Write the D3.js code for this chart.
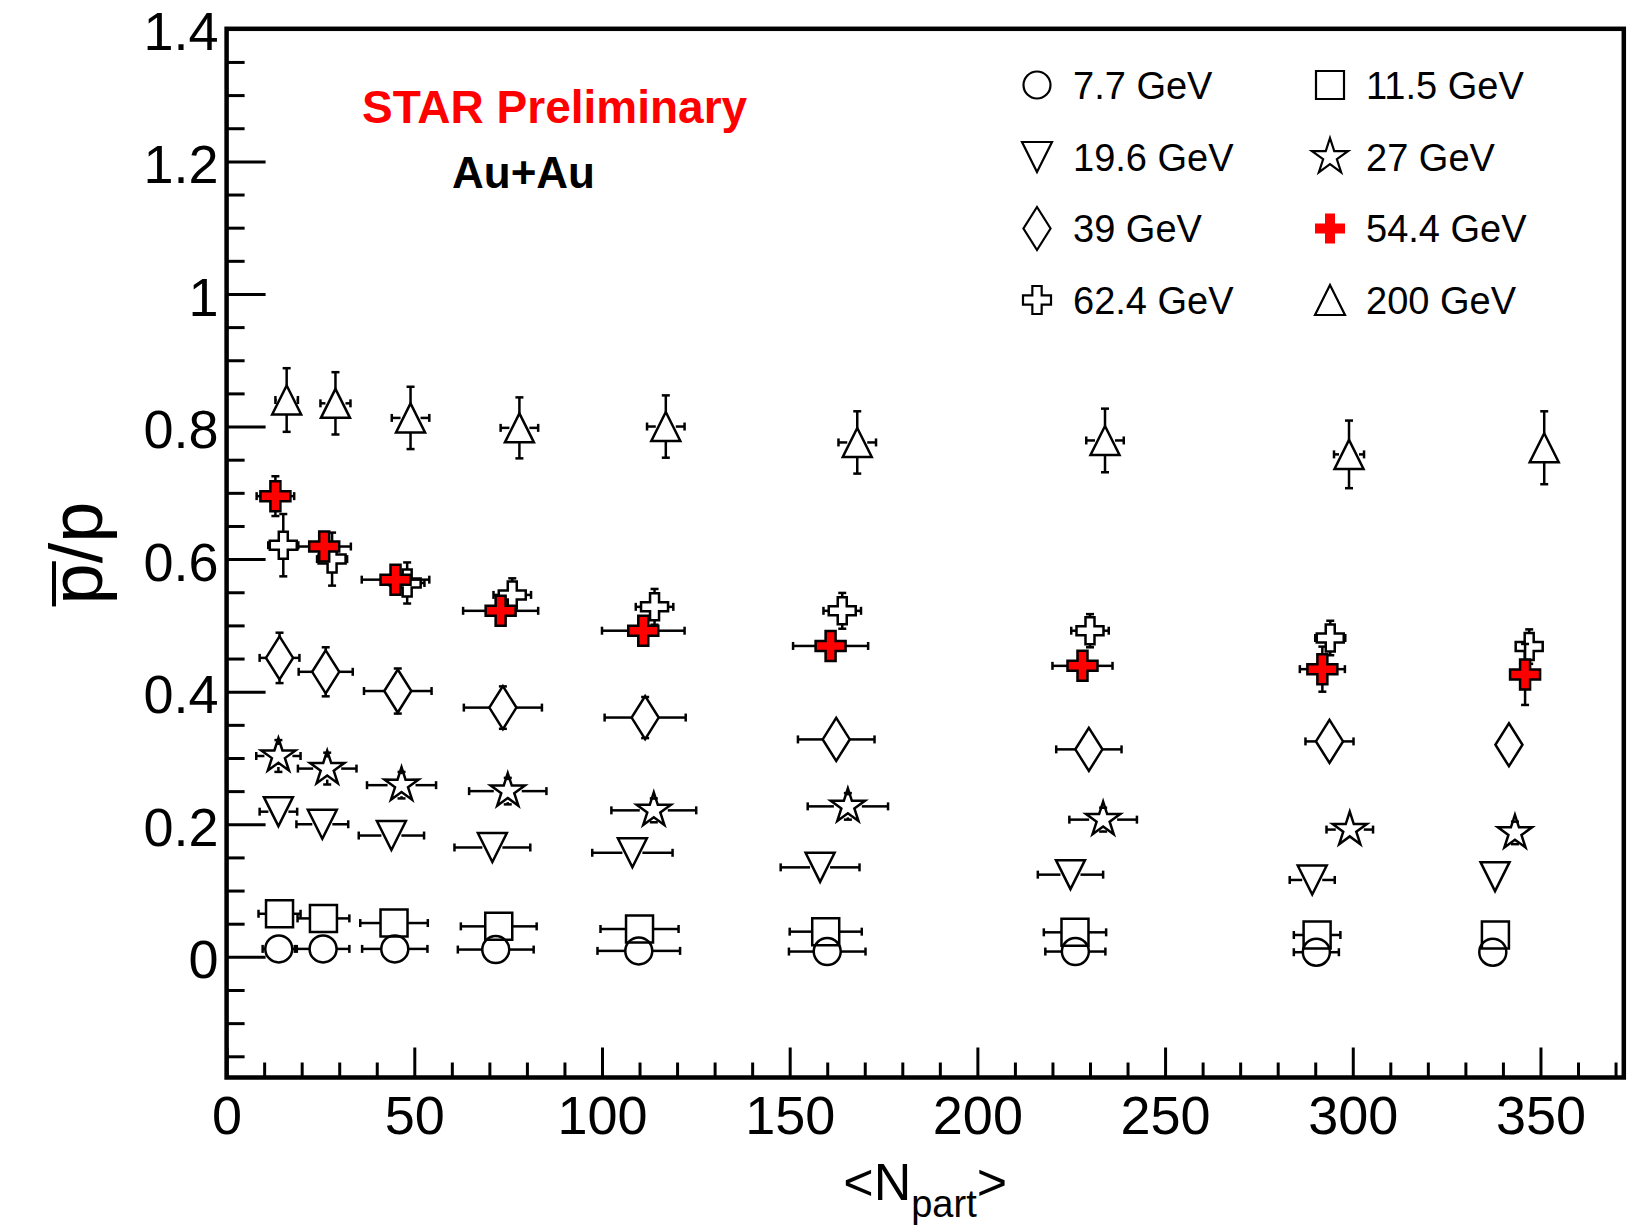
<!DOCTYPE html>
<html>
<head>
<meta charset="utf-8">
<script src="https://cdn.jsdelivr.net/npm/d3@7"></script>
<style>
  body { margin: 0; background: #fff; }
  svg { display: block; }
</style>
</head>
<body>
<div id="chart"></div>
<script>

// pbar/p vs <Npart>, Au+Au, per beam energy
var energies = ["7.7 GeV", "11.5 GeV", "19.6 GeV", "27 GeV", "39 GeV", "54.4 GeV", "62.4 GeV", "200 GeV"];

var npart_7 = [13.9, 25.7, 44.8, 71.7, 109.8, 160.0, 226.1, 290.3, 337.3];
var ratio_7 = [0.012, 0.012, 0.012, 0.011, 0.009, 0.008, 0.008, 0.007, 0.007];
var ex_7    = [4.3, 7.0, 8.7, 10.1, 11.0, 10.2, 8.0, 6.0, 2.5];
var ey_7    = [0.002, 0.002, 0.002, 0.002, 0.002, 0.002, 0.002, 0.002, 0.002];

var npart_11 = [14.1, 25.8, 44.6, 72.5, 110.0, 159.6, 226.0, 290.5, 338.0];
var ratio_11 = [0.065, 0.058, 0.051, 0.046, 0.042, 0.038, 0.037, 0.033, 0.033];
var ex_11    = [5.6, 6.9, 9.0, 10.1, 10.4, 9.6, 8.3, 6.2, 2.5];
var ey_11    = [0.004, 0.004, 0.004, 0.004, 0.004, 0.004, 0.004, 0.004, 0.004];

var npart_19 = [13.8, 25.5, 43.9, 70.8, 108.1, 158.1, 224.8, 289.2, 337.9];
var ratio_19 = [0.219, 0.200, 0.183, 0.165, 0.157, 0.135, 0.124, 0.116, 0.121];
var ex_19    = [5.0, 6.9, 8.7, 10.1, 10.7, 10.5, 8.7, 6.0, 2.4];
var ey_19    = [0.010, 0.010, 0.010, 0.010, 0.010, 0.010, 0.010, 0.010, 0.010];

var npart_27 = [13.8, 26.8, 46.6, 74.9, 113.8, 165.5, 233.5, 299.2, 343.2];
var ratio_27 = [0.303, 0.284, 0.259, 0.250, 0.221, 0.227, 0.207, 0.192, 0.187];
var ex_27    = [5.9, 7.8, 9.2, 10.3, 11.3, 10.7, 9.0, 6.2, 2.5];
var ey_27    = [0.024, 0.024, 0.020, 0.020, 0.018, 0.020, 0.018, 0.015, 0.017];

var npart_39 = [14.1, 26.4, 45.6, 73.6, 111.5, 162.4, 229.7, 293.8, 341.6];
var ratio_39 = [0.451, 0.430, 0.401, 0.376, 0.361, 0.328, 0.313, 0.325, 0.320];
var ex_39    = [5.3, 7.2, 9.0, 10.4, 10.8, 10.2, 8.7, 6.4, 2.5];
var ey_39    = [0.038, 0.037, 0.034, 0.032, 0.031, 0.025, 0.022, 0.022, 0.020];

var npart_54 = [13.0, 26.0, 45.0, 73.0, 111.0, 160.9, 228.0, 291.9, 345.9];
var ratio_54 = [0.695, 0.619, 0.569, 0.522, 0.492, 0.469, 0.439, 0.434, 0.426];
var ex_54    = [5.0, 7.1, 9.0, 10.0, 11.0, 10.0, 8.0, 6.0, 2.5];
var ey_54    = [0.030, 0.020, 0.020, 0.015, 0.015, 0.015, 0.015, 0.034, 0.046];

var npart_62 = [15.1, 28.1, 48.1, 76.1, 114.0, 164.0, 230.0, 294.0, 347.0];
var ratio_62 = [0.621, 0.600, 0.564, 0.546, 0.528, 0.522, 0.492, 0.481, 0.468];
var ex_62    = [4.0, 4.0, 4.6, 5.0, 5.0, 5.0, 5.0, 4.0, 2.5];
var ey_62    = [0.047, 0.040, 0.031, 0.025, 0.027, 0.027, 0.025, 0.026, 0.026];

var npart_200 = [16.0, 29.0, 49.0, 78.0, 117.0, 168.0, 234.0, 299.0, 351.0];
var ratio_200 = [0.840, 0.835, 0.813, 0.798, 0.800, 0.776, 0.779, 0.758, 0.768];
var ex_200    = [3.0, 4.0, 5.0, 5.0, 5.0, 5.0, 5.0, 4.0, 2.0];
var ey_200    = [0.048, 0.047, 0.047, 0.046, 0.047, 0.047, 0.048, 0.051, 0.055];

// axis ticks
var xMajor = [0, 50, 100, 150, 200, 250, 300, 350];
var yMajor = [0, 0.2, 0.4, 0.6, 0.8, 1, 1.2, 1.4];

var width = 1628, height = 1226;
var font = "'Liberation Sans', Arial, Helvetica, sans-serif";

var svg = d3.select("#chart").append("svg")
    .attr("width", width)
    .attr("height", height)
    .style("font-family", font);

svg.append("rect").attr("width", width).attr("height", height).attr("fill", "#fff");

var x = d3.scaleLinear().domain([0, 372.2]).range([226.6, 1623.8]);
var y = d3.scaleLinear().domain([-0.182, 1.4]).range([1077.5, 28.8]);

// marker shapes (open unless noted)
function shapePath(shape, s) {
  var p = "";
  if (shape == "circle") {
    p = "M" + s + ",0A" + s + "," + s + " 0 1,1 " + (-s) + ",0A" + s + "," + s + " 0 1,1 " + s + ",0Z";
  } else if (shape == "square") {
    p = "M" + (-s) + "," + (-s) + "H" + s + "V" + s + "H" + (-s) + "Z";
  } else if (shape == "tri") {
    p = "M0," + (-s) + "L" + s + "," + s + "L" + (-s) + "," + s + "Z";
  } else if (shape == "itri") {
    p = "M0," + s + "L" + s + "," + (-s) + "L" + (-s) + "," + (-s) + "Z";
  } else if (shape == "diamond") {
    var w = s * 0.63;
    p = "M0," + (-s) + "L" + w + ",0L0," + s + "L" + (-w) + ",0Z";
  } else if (shape == "star") {
    var pts = [];
    for (var i = 0; i < 10; i++) {
      var r = i % 2 == 0 ? s : s * 0.38;
      var a = -Math.PI / 2 + i * Math.PI / 5;
      pts.push([r * Math.cos(a), r * Math.sin(a)]);
    }
    p = "M" + pts.map(function(q) { return q[0].toFixed(2) + "," + q[1].toFixed(2); }).join("L") + "Z";
  } else if (shape == "cross") {
    var a2 = s / 3;
    p = "M" + (-a2) + "," + (-s) + "H" + a2 + "V" + (-a2) + "H" + s + "V" + a2 + "H" + a2 + "V" + s +
        "H" + (-a2) + "V" + a2 + "H" + (-s) + "V" + (-a2) + "H" + (-a2) + "Z";
  }
  return p;
}

// style per energy: shape, size, gap for error bars [x, y], fill
var styles = {
  "7.7 GeV":  { shape: "circle",  size: 13.5, gap: [13.5, 13.5], fill: "none" },
  "11.5 GeV": { shape: "square",  size: 13.5, gap: [13.5, 13.5], fill: "none" },
  "19.6 GeV": { shape: "itri",    size: 14.5, gap: [10, 14.5],   fill: "none" },
  "27 GeV":   { shape: "star",    size: 18,   gap: [14, 11],     fill: "none" },
  "39 GeV":   { shape: "diamond", size: 21.5, gap: [13.5, 20],   fill: "none" },
  "54.4 GeV": { shape: "cross",   size: 15,   gap: [15, 15],     fill: "#ff0000" },
  "62.4 GeV": { shape: "cross",   size: 13.5, gap: [13.5, 13.5], fill: "none" },
  "200 GeV":  { shape: "tri",     size: 14.5, gap: [10, 14.5],   fill: "none" }
};

var series = [
  { name: "7.7 GeV",  n: npart_7,   r: ratio_7,   ex: ex_7,   ey: ey_7 },
  { name: "11.5 GeV", n: npart_11,  r: ratio_11,  ex: ex_11,  ey: ey_11 },
  { name: "19.6 GeV", n: npart_19,  r: ratio_19,  ex: ex_19,  ey: ey_19 },
  { name: "27 GeV",   n: npart_27,  r: ratio_27,  ex: ex_27,  ey: ey_27 },
  { name: "39 GeV",   n: npart_39,  r: ratio_39,  ex: ex_39,  ey: ey_39 },
  { name: "62.4 GeV", n: npart_62,  r: ratio_62,  ex: ex_62,  ey: ey_62 },
  { name: "54.4 GeV", n: npart_54,  r: ratio_54,  ex: ex_54,  ey: ey_54 },
  { name: "200 GeV",  n: npart_200, r: ratio_200, ex: ex_200, ey: ey_200 }
];

// axes
var yAxis = svg.append("g")
    .attr("transform", "translate(" + x(0) + ",0)")
    .call(d3.axisLeft(y).tickValues(yMajor).tickSize(-39).tickPadding(8)
      .tickFormat(function(d) { return d3.format("~g")(d); }));
yAxis.attr("font-family", font).attr("font-size", 54);
yAxis.selectAll("text").attr("dy", "0.39em").attr("fill", "#000");

var yMinor = d3.range(-0.15, 1.4, 0.05).filter(function(v) { return Math.abs(v / 0.2 - Math.round(v / 0.2)) > 0.01; });
svg.append("g")
    .attr("transform", "translate(" + x(0) + ",0)")
    .call(d3.axisLeft(y).tickValues(yMinor).tickSize(-18).tickFormat(""));

var xAxis = svg.append("g")
    .attr("transform", "translate(0," + y.range()[0] + ")")
    .call(d3.axisBottom(x).tickValues(xMajor).tickSize(-30).tickPadding(18));
xAxis.attr("font-family", font).attr("font-size", 54);
xAxis.selectAll("text").attr("fill", "#000");

var xMinor = d3.range(10, 372, 10).filter(function(v) { return v % 50 != 0; });
svg.append("g")
    .attr("transform", "translate(0," + y.range()[0] + ")")
    .call(d3.axisBottom(x).tickValues(xMinor).tickSize(-15).tickFormat(""));

svg.selectAll(".domain").remove();
svg.selectAll(".tick line").attr("stroke", "#000").attr("stroke-width", 3);

// frame
svg.append("rect")
    .attr("x", x.range()[0]).attr("y", y.range()[1])
    .attr("width", x.range()[1] - x.range()[0])
    .attr("height", y.range()[0] - y.range()[1])
    .attr("fill", "none").attr("stroke", "#000").attr("stroke-width", 4.5);

// data points with error bars (bars and end ticks only drawn beyond the marker gap)
var tk = 4;
series.forEach(function(s) {
  var st = styles[s.name];
  var g = svg.append("g").attr("class", "series");
  s.n.forEach(function(nv, i) {
    var cx = x(nv), cy = y(s.r[i]);
    var eg = g.append("g").attr("stroke", "#000").attr("stroke-width", 2.5);
    var xl = x(nv - s.ex[i]), xr = x(nv + s.ex[i]);
    if (cx - xl > st.gap[0]) {
      eg.append("line").attr("x1", xl).attr("x2", cx - st.gap[0]).attr("y1", cy).attr("y2", cy);
      eg.append("line").attr("x1", xl).attr("x2", xl).attr("y1", cy - tk).attr("y2", cy + tk);
    }
    if (xr - cx > st.gap[0]) {
      eg.append("line").attr("x1", cx + st.gap[0]).attr("x2", xr).attr("y1", cy).attr("y2", cy);
      eg.append("line").attr("x1", xr).attr("x2", xr).attr("y1", cy - tk).attr("y2", cy + tk);
    }
    var yt = y(s.r[i] + s.ey[i]), yb = y(s.r[i] - s.ey[i]);
    if (cy - yt > st.gap[1]) {
      eg.append("line").attr("x1", cx).attr("x2", cx).attr("y1", yt).attr("y2", cy - st.gap[1]);
      eg.append("line").attr("x1", cx - tk).attr("x2", cx + tk).attr("y1", yt).attr("y2", yt);
    }
    if (yb - cy > st.gap[1]) {
      eg.append("line").attr("x1", cx).attr("x2", cx).attr("y1", cy + st.gap[1]).attr("y2", yb);
      eg.append("line").attr("x1", cx - tk).attr("x2", cx + tk).attr("y1", yb).attr("y2", yb);
    }
    g.append("path")
        .attr("d", shapePath(st.shape, st.size))
        .attr("transform", "translate(" + cx + "," + cy + ")")
        .attr("fill", st.fill)
        .attr("stroke", "#000")
        .attr("stroke-width", 2.5)
        .attr("stroke-linejoin", "miter");
  });
});

// legend, two columns
var legendCols = [["7.7 GeV", "19.6 GeV", "39 GeV", "62.4 GeV"], ["11.5 GeV", "27 GeV", "54.4 GeV", "200 GeV"]];
var legendSize = { "7.7 GeV": 13.5, "11.5 GeV": 14, "19.6 GeV": 15, "27 GeV": 19, "39 GeV": 21.5, "54.4 GeV": 15, "62.4 GeV": 14, "200 GeV": 15 };
var colX = [1037, 1330], rowY = [85, 157, 228.5, 300];
legendCols.forEach(function(col, ci) {
  col.forEach(function(name, ri) {
    var st = styles[name];
    svg.append("path")
        .attr("d", shapePath(st.shape, legendSize[name]))
        .attr("transform", "translate(" + colX[ci] + "," + rowY[ri] + ")")
        .attr("fill", st.fill)
        .attr("stroke", st.fill == "none" ? "#000" : "none")
        .attr("stroke-width", 2.2);
    svg.append("text")
        .attr("x", colX[ci] + 36)
        .attr("y", rowY[ri] + 13.5)
        .attr("font-size", 38)
        .attr("fill", "#000")
        .text(name);
  });
});

svg.append("text")
    .attr("x", 362).attr("y", 123)
    .attr("font-size", 46).attr("font-weight", "bold").attr("fill", "#ff0000")
    .text("STAR Preliminary");

svg.append("text")
    .attr("x", 452).attr("y", 188)
    .attr("font-size", 44).attr("font-weight", "bold").attr("fill", "#000")
    .text("Au+Au");

// x title
var xt = svg.append("text")
    .attr("x", (x.range()[0] + x.range()[1]) / 2)
    .attr("y", 1200)
    .attr("text-anchor", "middle")
    .attr("font-size", 52)
    .attr("fill", "#000");
xt.append("tspan").text("<N");
xt.append("tspan").attr("dy", 17).attr("font-size", 38).text("part");
xt.append("tspan").attr("dy", -17).text(">");

// y title with overline on the first p
var ytg = svg.append("g").attr("transform", "translate(102,553) rotate(-90)");
var ytxt = ytg.append("text")
    .attr("text-anchor", "middle")
    .attr("font-size", 74)
    .attr("fill", "#000")
    .text("p/p");
var L = ytxt.node().getComputedTextLength();
var pW = ytxt.node().getSubStringLength(0, 1);
ytg.append("line")
    .attr("x1", -L / 2 - 2).attr("x2", -L / 2 + pW + 2)
    .attr("y1", -48).attr("y2", -48)
    .attr("stroke", "#000").attr("stroke-width", 4);

</script>
</body>
</html>
